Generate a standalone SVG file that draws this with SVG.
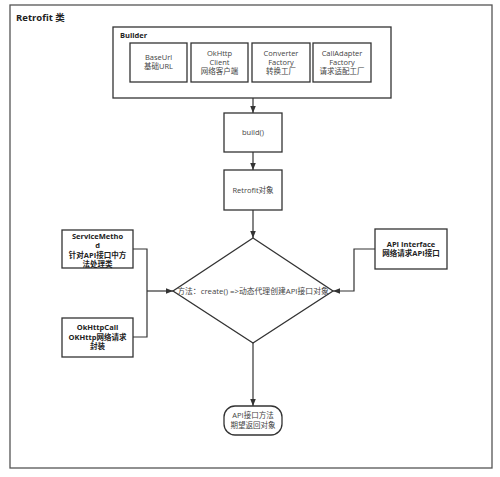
<svg xmlns="http://www.w3.org/2000/svg" width="500" height="477" viewBox="0 0 500 477">
<defs>
<style>
.box{fill:#fff;stroke:#333;stroke-width:1.3}
.frame{fill:#fff;stroke:#555;stroke-width:1.3}
.t{font-family:"Open Sans","Noto Sans CJK SC",sans-serif;font-size:7.5px;fill:#444;text-anchor:middle}
.b{font-family:"Open Sans","Noto Sans CJK SC",sans-serif;font-size:7.5px;font-weight:bold;fill:#222;text-anchor:middle}
.h{font-family:"Open Sans","Noto Sans CJK SC",sans-serif;font-weight:bold;fill:#222}
.c{fill:none;stroke:#333;stroke-width:1.2}
</style>
<marker id="ar" viewBox="0 0 10 10" refX="10" refY="5" markerWidth="7" markerHeight="7" orient="auto" markerUnits="userSpaceOnUse">
<path d="M0,1 L10,5 L0,9 Z" fill="#333"/>
</marker>
</defs>
<g id="retrofit">
<rect class="frame" x="10" y="5" width="482" height="463"/>
<text class="h" x="16" y="21" font-size="9.5">Retrofit 类</text>
</g>
<g id="builder">
<rect class="box" x="113" y="27" width="278" height="71"/>
<text class="h" x="120" y="38" font-size="7.5">Builder</text>
</g>
<g id="baseurl">
<rect class="box" x="130" y="43" width="57" height="39"/>
<text class="t" x="158.5" y="60">BaseUrl</text>
<text class="t" x="158.5" y="69">基础URL</text>
</g>
<g id="okhttp">
<rect class="box" x="191" y="43" width="57" height="39"/>
<text class="t" x="219.5" y="56">OkHttp</text>
<text class="t" x="219.5" y="65">Client</text>
<text class="t" x="219.5" y="74">网络客户端</text>
</g>
<g id="converter">
<rect class="box" x="252" y="43" width="58" height="39"/>
<text class="t" x="281" y="56">Converter</text>
<text class="t" x="281" y="65">Factory</text>
<text class="t" x="281" y="74">转换工厂</text>
</g>
<g id="calladapter">
<rect class="box" x="313" y="43" width="58" height="39"/>
<text class="t" x="342" y="56">CallAdapter</text>
<text class="t" x="342" y="65">Factory</text>
<text class="t" x="342" y="74">请求适配工厂</text>
</g>
<g id="build">
<rect class="box" x="224" y="113" width="58" height="39"/>
<text class="t" x="253" y="135">build()</text>
</g>
<g id="retrofitobj">
<rect class="box" x="224" y="170" width="58" height="40"/>
<text class="t" x="253" y="193">Retrofit对象</text>
</g>
<g id="create">
<polygon class="box" points="253,238 333,291 253,343 173,291"/>
<text class="t" x="253" y="294" style="font-size:7.8px">方法：create() =&gt;动态代理创建API接口对象</text>
</g>
<g id="servicemethod">
<rect class="box" x="62" y="230" width="71" height="38"/>
<text class="b" x="97.5" y="239">ServiceMetho</text>
<text class="b" x="97.5" y="248">d</text>
<text class="b" x="97.5" y="257.5">针对API接口中方</text>
<text class="b" x="97.5" y="266.5">法处理类</text>
</g>
<g id="okhttpcall">
<rect class="box" x="62" y="318" width="71" height="39"/>
<text class="b" x="97.5" y="330">OkHttpCall</text>
<text class="b" x="97.5" y="339.5">OKHttp网络请求</text>
<text class="b" x="97.5" y="349">封装</text>
</g>
<g id="apiinterface">
<rect class="box" x="375" y="229" width="72" height="40"/>
<text class="b" x="411" y="247">API Interface</text>
<text class="b" x="411" y="256">网络请求API接口</text>
</g>
<g id="result">
<rect class="box" x="224" y="406" width="58" height="29" rx="11" ry="11"/>
<text class="t" x="253" y="418">API接口方法</text>
<text class="t" x="253" y="428">期望返回对象</text>
</g>
<g id="connectors">
<path class="c" d="M253,98 L253,113" marker-end="url(#ar)"/>
<path class="c" d="M253,152 L253,170" marker-end="url(#ar)"/>
<path class="c" d="M253,210 L253,238" marker-end="url(#ar)"/>
<path class="c" d="M133,249 L147,249 L147,337 L133,337"/>
<path class="c" d="M147,291 L173,291" marker-end="url(#ar)"/>
<path class="c" d="M375,249 L354,249 L354,291 L333,291" marker-end="url(#ar)"/>
<path class="c" d="M253,343 L253,406" marker-end="url(#ar)"/>
</g>
</svg>
